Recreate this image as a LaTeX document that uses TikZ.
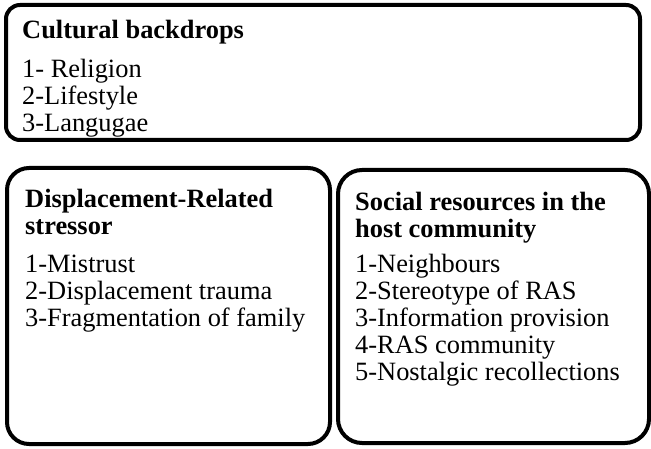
\documentclass[tikz,border=0pt]{standalone}
\usepackage{fontspec}
\setmainfont{Liberation Serif}
\begin{document}
\begin{tikzpicture}[x=1pt,y=-1pt,
  box/.style={draw=black,line width=4pt,rectangle,inner sep=0pt},
  txt/.style={anchor=north west,inner sep=0pt,align=left,font=\fontsize{26.4}{27}\selectfont}]
\useasboundingbox (0,0) rectangle (651,449);
\node[box,rounded corners=14pt,minimum width=634pt,minimum height=135pt] (top) at (323,72.5) {};
\node[box,rounded corners=22pt,minimum width=323pt,minimum height=276pt] (left) at (168.5,306) {};
\node[box,rounded corners=24pt,minimum width=311pt,minimum height=273pt] (right) at (493.5,306.5) {};
\node[txt] (toptext) at (22,20.3) {\textbf{Cultural backdrops}\\[12pt]1- Religion\\2-Lifestyle\\3-Langugae};
\node[txt] (lefttext) at (25,189) {\textbf{Displacement-Related}\\\textbf{stressor}\\[11pt]1-Mistrust\\2-Displacement trauma\\3-Fragmentation of family};
\node[txt] (righttext) at (355,192) {\textbf{Social resources in the}\\\textbf{host community}\\[8pt]1-Neighbours\\2-Stereotype of RAS\\3-Information provision\\4-RAS community\\5-Nostalgic recollections};
\end{tikzpicture}
\end{document}
